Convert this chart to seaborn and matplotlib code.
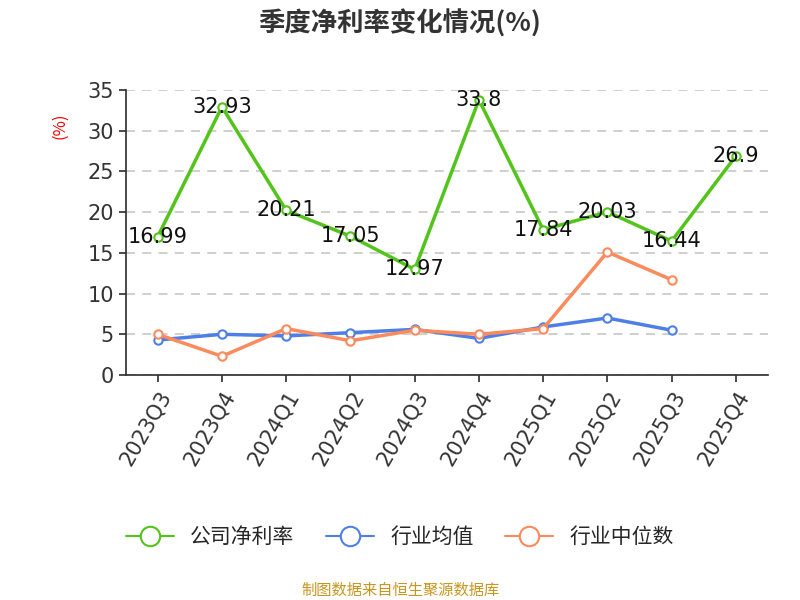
import matplotlib
matplotlib.use("Agg")
import matplotlib.pyplot as plt
from matplotlib.lines import Line2D
import seaborn as sns
import pandas as pd

quarters = ["2023Q3","2023Q4","2024Q1","2024Q2","2024Q3","2024Q4","2025Q1","2025Q2","2025Q3","2025Q4"]
company = [16.99,32.93,20.21,17.05,12.97,33.8,17.84,20.03,16.44,26.9]
ind_avg = [4.3,5.0,4.8,5.2,5.6,4.5,5.9,7.0,5.5,None]
ind_med = [5.0,2.3,5.7,4.2,5.5,5.0,5.7,15.1,11.7,None]

sns.set_theme(style="white")
plt.rcParams['font.family'] = ['Noto Sans CJK SC', 'DejaVu Sans']

fig = plt.figure(figsize=(8,6), dpi=100)
ax = fig.add_axes([0.157, 0.375, 0.803, 0.475])

df = pd.DataFrame({"q": quarters, "公司净利率": company, "行业均值": ind_avg, "行业中位数": ind_med})
colors = {"公司净利率": "#52c41a", "行业均值": "#4e7fe6", "行业中位数": "#fb8a5c"}
x = list(range(len(quarters)))
handles = []
for name in ["公司净利率", "行业均值", "行业中位数"]:
    sns.lineplot(x=x, y=df[name], ax=ax, color=colors[name], lw=2.5, marker="o",
                 markersize=6, markerfacecolor="white", markeredgecolor=colors[name],
                 markeredgewidth=1.5, legend=False)
    handles.append(Line2D([], [], color=colors[name], lw=1.5, marker="o", markersize=14,
                          markerfacecolor="white", markeredgecolor=colors[name],
                          markeredgewidth=1.5, label=name))

for i, v in enumerate(company):
    ax.text(i, v, f"{v:g}", ha="center", va="center", fontsize=15, color="#111", family="DejaVu Sans")

ax.set_xlim(-0.5, 9.5)
ax.set_ylim(0, 35)
ax.set_yticks(range(0, 36, 5))
ax.set_xticks(x)
ax.set_xticklabels(quarters, rotation=60, ha="right", rotation_mode="anchor", fontsize=15, color="#333")
ax.tick_params(axis="y", labelsize=15, colors="#333", left=True, length=5, color="#333")
ax.tick_params(axis="x", bottom=True, length=5, color="#333")
for t in ax.get_xticklabels() + ax.get_yticklabels():
    t.set_family("DejaVu Sans")
ax.set_xlabel("")
ax.set_ylabel("")
ax.yaxis.grid(True, linestyle=(0,(5,4)), color="#cccccc", lw=1.3)
for s in ["top", "right"]:
    ax.spines[s].set_visible(False)
ax.spines["left"].set_color("#333")
ax.spines["bottom"].set_color("#333")

fig.text(0.075, 0.79, "(%)", color="red", rotation=90, fontsize=12, ha="center", va="center")
fig.text(0.5, 0.96, "季度净利率变化情况(%)", fontsize=19, fontweight="bold", ha="center", va="center", color="#333")

fig.legend(handles=handles, loc="center", bbox_to_anchor=(0.5, 0.105), ncol=3, frameon=False, fontsize=15,
           handlelength=2.3, columnspacing=1.5)
fig.text(0.5, 0.017, "制图数据来自恒生聚源数据库", fontsize=11, color="#c8961e", ha="center", va="center")
fig.savefig("out.png", dpi=100)
